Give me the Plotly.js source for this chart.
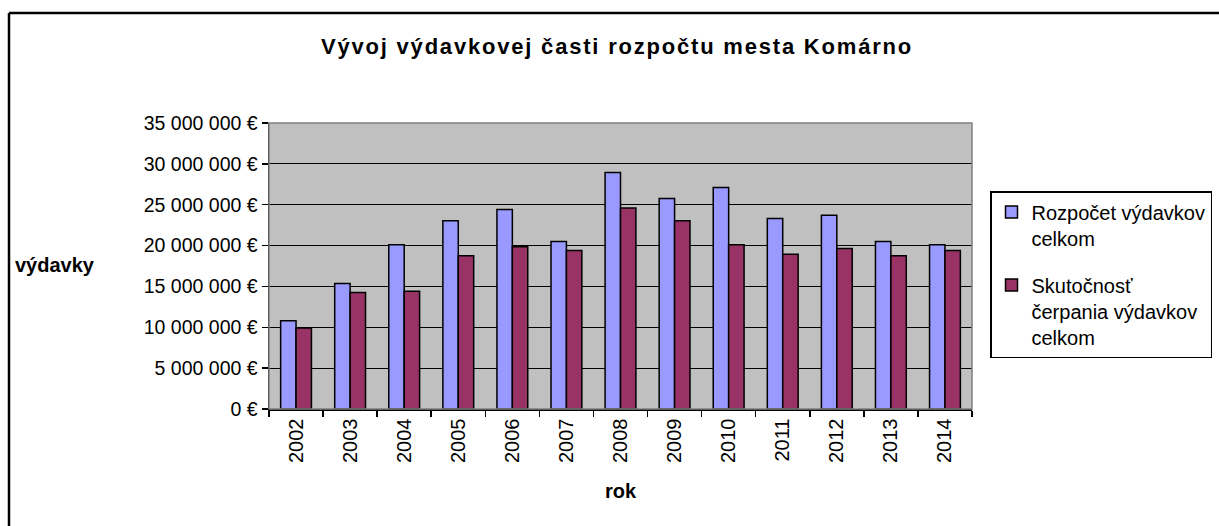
<!DOCTYPE html>
<html>
<head>
<meta charset="utf-8">
<script src="https://cdn.plot.ly/plotly-3.0.1.min.js"></script>
<style>
html,body{margin:0;padding:0;background:#fff;}
#chart{width:1219px;height:526px;}
#chart .gtitle{letter-spacing:1.8px;}
</style>
</head>
<body>
<div id="chart"></div>
<script>
const years = ['2002','2003','2004','2005','2006','2007','2008','2009','2010','2011','2012','2013','2014'];
const rozpocet = [10800000, 15350000, 20100000, 23050000, 24400000, 20500000, 28950000, 25750000, 27100000, 23300000, 23700000, 20500000, 20100000];
const skutocnost = [9900000, 14250000, 14400000, 18750000, 19850000, 19400000, 24600000, 23050000, 20100000, 18950000, 19650000, 18750000, 19400000];
const yTickVals = [0, 5000000, 10000000, 15000000, 20000000, 25000000, 30000000, 35000000];
const yTickText = ['0 €', '5 000 000 €', '10 000 000 €', '15 000 000 €', '20 000 000 €', '25 000 000 €', '30 000 000 €', '35 000 000 €'];

const FONT = '"Liberation Sans", Arial, sans-serif';

const traces = [
  {type:'bar', name:'Rozpočet výdavkov<br>celkom', x:years, y:rozpocet, legendgroup:'a',
   marker:{color:'#9999FF', line:{color:'#000', width:1.5}}, hoverinfo:'x+y'},
  {type:'bar', name:'Skutočnosť<br>čerpania výdavkov<br>celkom', x:years, y:skutocnost, legendgroup:'b',
   marker:{color:'#993366', line:{color:'#000', width:1.5}}, hoverinfo:'x+y'}
];

const layout = {
  width:1219, height:526,
  margin:{l:269, r:247, t:123, b:117, autoexpand:false},
  paper_bgcolor:'#fff', plot_bgcolor:'#C0C0C0',
  font:{family:FONT, size:20, color:'#000'},
  barmode:'group', bargap:0.43, bargroupgap:0,
  title:{text:'<b>Vývoj výdavkovej časti rozpočtu mesta Komárno</b>', font:{family:FONT, size:22, color:'#000'},
         x:617/1219, xref:'container', y:1-46/526, yref:'container', yanchor:'middle'},
  xaxis:{type:'category', tickangle:-90, tickson:'boundaries', ticks:'outside', ticklen:6, tickcolor:'#000', tickwidth:1.5,
         showline:true, linecolor:'#000', linewidth:1.5, showgrid:false, zeroline:false,
         tickfont:{family:FONT, size:20, color:'#000'}, automargin:false},
  yaxis:{range:[0,35000000], tickvals:yTickVals, ticktext:yTickText, ticks:'outside', ticklen:6, tickcolor:'#000', tickwidth:1.5,
         showline:true, linecolor:'#000', linewidth:1.5, showgrid:true, gridcolor:'#000', gridwidth:1.2, zeroline:false,
         tickfont:{family:FONT, size:19.5, color:'#000'}, automargin:false},
  legend:{x:(990-269)/703, xanchor:'left', y:(409-191)/286, yanchor:'top', valign:'top',
          bordercolor:'#000', borderwidth:1.5, bgcolor:'#fff', traceorder:'grouped',
          font:{family:FONT, size:20, color:'#000'}, tracegroupgap:18, itemwidth:30},
  annotations:[
    {text:'<b>rok</b>', xref:'paper', yref:'paper', x:0.5, y:(409-491)/286, yanchor:'middle', xanchor:'center', showarrow:false,
     font:{family:FONT, size:20, color:'#000'}},
    {text:'<b>výdavky</b>', xref:'paper', yref:'paper', x:(13-269)/703, y:(409-265)/286, yanchor:'middle', xanchor:'left', showarrow:false,
     font:{family:FONT, size:20, color:'#000'}}
  ],
  shapes:[
    {type:'rect', xref:'paper', yref:'paper', x0:0, x1:1, y0:0, y1:1, line:{color:'#808080', width:1.5}, layer:'above'},
    {type:'line', xref:'paper', yref:'paper', x0:(9-269)/703, x1:(9-269)/703, y0:(409-13)/286, y1:-1, line:{color:'#000', width:2.5}},
    {type:'line', xref:'paper', yref:'paper', x0:(9-269)/703, x1:1.6, y0:(409-13)/286, y1:(409-13)/286, line:{color:'#000', width:2.5}}
  ],
  showlegend:true
};

Plotly.newPlot('chart', traces, layout, {displayModeBar:false, staticPlot:true});
</script>
</body>
</html>
